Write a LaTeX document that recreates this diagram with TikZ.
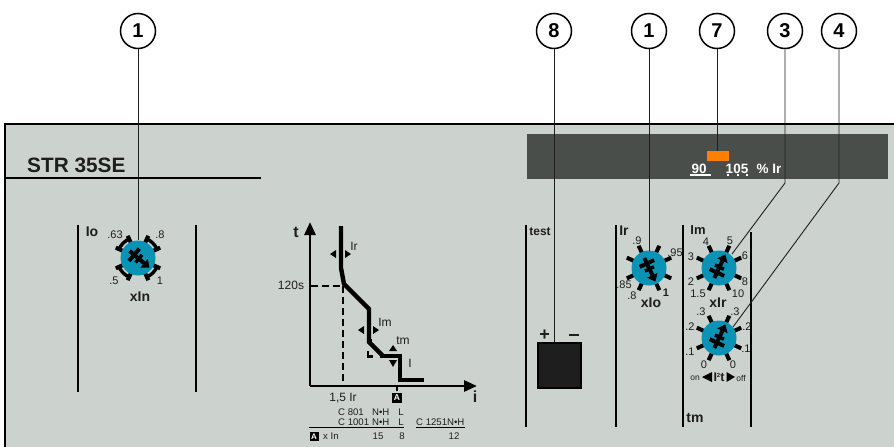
\documentclass[tikz,border=0pt]{standalone}
\usepackage{fontspec}
\setmainfont{Liberation Sans}
\usetikzlibrary{calc,arrows.meta}
\definecolor{panel}{HTML}{CCD3CE}
\definecolor{barc}{HTML}{494E4B}
\definecolor{teal}{HTML}{0A93B5}
\definecolor{ink}{HTML}{1E1E1E}
\definecolor{orangec}{HTML}{FF7F00}
\tikzset{
  x=1pt,y=-1pt,
  callout/.style={circle,draw=black,fill=white,line width=1.5pt,minimum size=35pt,inner sep=0pt,font=\fontsize{20}{20}\selectfont\bfseries},
  lead/.style={draw=ink,line width=0.9pt},
  rule/.style={draw=black,line width=2.8pt},
  txt/.style={text=ink,inner sep=0pt,font=\fontsize{11}{11}\selectfont},
  gtxt/.style={text=ink,inner sep=0pt,font=\fontsize{12}{12}\selectfont},
  tbl/.style={text=ink,inner sep=0pt,font=\fontsize{9.6}{10}\selectfont},
  lab/.style={text=ink,inner sep=0pt,font=\fontsize{13}{13}\selectfont\bfseries},
  dsp/.style={text=white,inner sep=0pt,font=\fontsize{13.5}{14}\selectfont\bfseries},
  knob/.style={circle,fill=teal,inner sep=0pt,minimum size=35pt},
  tick/.style={draw=black,line width=4pt},
  ptr/.style={draw=black,line width=4pt},
  curve/.style={draw=black,line width=4.4pt,line join=miter},
  axis/.style={draw=black,line width=2.8pt,-{Triangle[length=13pt,width=11pt]}},
  dashline/.style={draw=black,line width=2pt,dash pattern=on 7pt off 4pt},
}
\newcommand{\knobdraw}[5]{% name,x,y,pointer angle,tick angles
  \foreach \a in {#5}{\draw[tick] ($(#2,#3)+(\a:16pt)$) -- ($(#2,#3)+(\a:24.5pt)$);}
  \node[knob] (#1) at (#2,#3) {};
  \draw[ptr,-{Triangle[length=7pt,width=11pt]}] ($(#1)+(#4+180:11pt)$) -- ($(#1)+(#4:15pt)$);
  \draw[ptr] ($(#1)+(#4:-5pt)+(#4+90:8pt)$) -- ($(#1)+(#4:-5pt)+(#4-90:8pt)$);
  \draw[draw=black,line width=3.4pt] ($(#1)+(#4:1pt)+(#4+90:5pt)$) -- ($(#1)+(#4:1pt)+(#4-90:5pt)$);
}
\newcommand{\tri}[6]{\fill[black] (#1,#2) -- (#3,#4) -- (#5,#6) -- cycle;}
\begin{document}
\begin{tikzpicture}
\useasboundingbox (0,0) rectangle (894,447);
\fill[white] (0,0) rectangle (894,447);
\fill[panel] (5,124) rectangle (894,447);
\draw[rule] (894,124) -- (5,124) -- (5,447);
\draw[rule] (5,178) -- (261,178);
\node[anchor=west,text=ink,inner sep=0pt,font=\fontsize{20.8}{21}\selectfont\bfseries] (title) at (27,165) {STR 35SE};

% display bar
\fill[barc] (527,134) rectangle (888,179);
\fill[orangec] (707,151) rectangle (729,161);
\node[dsp] (t90) at (699,169) {90};
\node[dsp] (t105) at (737,169) {105};
\node[dsp] (tpct) at (769,169) {\% Ir};
\draw[white,line width=2.4pt] (690,175) -- (711,175);
\draw[white,line width=2.4pt] (727,175) -- (729,175) (737,175) -- (739,175) (746,175) -- (748,175);

% section rules
\foreach \xa/\ya/\yb in {78/225/392,196/225/392,526/225/427,616/225/427,683/225/427,751/232/427}
  \draw[rule] (\xa,\ya) -- (\xa,\yb);

% dial 1
\knobdraw{dA}{138}{258}{-40}{115,155,65,25,-25,-65,-115,-155}
\draw[black,line width=3.4pt] ($(138,258)+(115:21pt)$) arc[start angle=115,end angle=155,radius=21pt];
\draw[black,line width=3.4pt] ($(138,258)+(25:21pt)$) arc[start angle=25,end angle=65,radius=21pt];
\draw[black,line width=3.4pt] ($(138,258)+(-155:21pt)$) arc[start angle=-155,end angle=-115,radius=21pt];
\draw[black,line width=3.4pt] ($(138,258)+(-65:21pt)$) arc[start angle=-65,end angle=-25,radius=21pt];
\node[txt] at (115,235) {.63};
\node[txt] at (160,235) {.8};
\node[txt] at (114,281) {.5};
\node[txt] at (160,281) {1};
\node[lab,font=\fontsize{14}{14}\selectfont\bfseries] at (140,297) {xIn};
\node[lab,font=\fontsize{14}{14}\selectfont\bfseries] at (92,232) {Io};

% graph
\coordinate (org) at (310,386);
\coordinate (ytop) at (310,222);
\coordinate (xend) at (477,386);
\draw[axis] (org) -- (ytop);
\draw[axis] (org) -- (xend);
\draw[dashline] (311,286) -- (343,286);
\draw[dashline] (343,286) -- (343,386);
\draw[curve] (341,226) -- (341,268) -- (344,284) -- (369,309) -- (369,342) -- (383,356);
\draw[curve] (380,356) -- (400,356) -- (400,380) -- (424,380);
\draw[curve] (367,341) -- (372,341);
\draw[black,line width=2.6pt] (368,351) -- (368,356.5) -- (373,356.5);
\draw[black,line width=2pt] (397,386) -- (397,391);
\tri{330}{254}{336}{250}{336}{258}
\tri{351}{254}{345}{250}{345}{258}
\tri{358}{330}{364}{326}{364}{334}
\tri{379}{330}{373}{326}{373}{334}
\tri{393}{345}{389}{351}{397}{351}
\tri{393}{367}{389}{360}{397}{360}
\node[lab,font=\fontsize{16}{16}\selectfont\bfseries] at (296,232) {t};
\node[gtxt] at (354,246) {Ir};
\node[gtxt] at (291,285) {120s};
\node[gtxt] at (385,322) {Im};
\node[gtxt] at (403,341) {tm};
\node[gtxt] at (410,363) {I};
\node[gtxt] at (343,398) {1,5 Ir};
\node[fill=black,text=white,inner sep=0pt,minimum size=10pt,font=\fontsize{8.5}{9}\selectfont\bfseries] at (397,398) {A};
\node[lab,font=\fontsize{16}{16}\selectfont\bfseries] at (475,397) {i};
\node[tbl,anchor=west] at (338,412) {C 801};
\node[tbl,anchor=west] at (372,412) {N\textbullet H};
\node[tbl] at (401,412) {L};
\node[tbl,anchor=west] at (338,422) {C 1001};
\node[tbl,anchor=west] at (372,422) {N\textbullet H};
\node[tbl] at (401,422) {L};
\node[tbl,anchor=west] at (416,422) {C 1251N\textbullet H};
\draw[black,line width=1pt] (309,427.5) -- (404,427.5);
\draw[black,line width=1pt] (416,427.5) -- (465,427.5);
\node[fill=black,text=white,inner sep=0pt,minimum size=9pt,font=\fontsize{8}{8}\selectfont\bfseries] at (314,436.5) {A};
\node[tbl,anchor=west] at (323,436.5) {x In};
\node[tbl] at (378,436.5) {15};
\node[tbl] at (402,436.5) {8};
\node[tbl] at (454,436.5) {12};

% test
\node[lab,font=\fontsize{12}{12}\selectfont\bfseries] at (540,232) {test};
\node[draw=black,fill=ink,line width=2pt,minimum width=43pt,minimum height=45pt,inner sep=0pt] (testbox) at (559.5,365.5) {};
\node[lab,font=\fontsize{18}{18}\selectfont\bfseries] at (544.5,335) {+};
\draw[ink,line width=1.6pt] (569,335) -- (579,335);

% Ir dial
\knobdraw{dB}{649}{268}{-65}{115,65,25,-25,-65,-115,-155,155}
\node[lab,font=\fontsize{14}{14}\selectfont\bfseries] at (624,231) {Ir};
\node[txt] at (637,241) {.9};
\node[txt] at (675,253) {.95};
\node[txt] at (624,285) {.85};
\node[txt] at (632,296) {.8};
\node[txt,font=\fontsize{11}{11}\selectfont\bfseries] at (666,293) {1};
\node[lab,font=\fontsize{14}{14}\selectfont\bfseries] at (651,303) {xIo};

% Im dial
\knobdraw{dC}{719}{268}{65}{115,65,25,-25,-65,-115,-155,155}
\node[lab,font=\fontsize{13}{13}\selectfont\bfseries] at (698,230) {Im};
\node[txt] at (706,242) {4};
\node[txt] at (730,241) {5};
\node[txt] at (691,257) {3};
\node[txt] at (745,256) {6};
\node[txt] at (691,282) {2};
\node[txt] at (745,282) {8};
\node[txt] at (698,294) {1.5};
\node[txt] at (738,294) {10};
\node[lab,font=\fontsize{14}{14}\selectfont\bfseries] at (718,303) {xIr};

% tm dial
\knobdraw{dD}{719}{338}{65}{115,65,25,-25,-65,-115,-155,155}
\node[txt] at (701,312) {.3};
\node[txt] at (735,312) {.3};
\node[txt] at (690,327) {.2};
\node[txt] at (747,327) {.2};
\node[txt] at (690,352) {.1};
\node[txt] at (746,349) {.1};
\node[txt] at (704,365) {0};
\node[txt] at (733,365) {0};
\node[txt,font=\fontsize{8.5}{9}\selectfont] at (695,378) {on};
\node[txt,font=\fontsize{8.5}{9}\selectfont] at (741,378) {off};
\node[lab,font=\fontsize{12.5}{13}\selectfont\bfseries] at (719,377) {I\raisebox{3.5pt}{\fontsize{6}{6}\selectfont 2}t};
\tri{702}{377}{712}{372}{712}{382}
\tri{735}{377}{726.5}{372}{726.5}{382}
\node[lab,font=\fontsize{14}{14}\selectfont\bfseries] at (695,418) {tm};

% connector ends
\coordinate (e1) at (138,240);
\coordinate (e8) at (554,342);
\coordinate (e2) at (649,251);
\coordinate (e7) at (717,151);
\coordinate (b3) at (785,183);
\coordinate (e3) at (732,254);
\coordinate (b4) at (839,183);
\coordinate (e4) at (733,327);

% callouts
\node[callout] (c1) at (138,31) {1};
\node[callout] (c8) at (554,31) {8};
\node[callout] (c2) at (649,31) {1};
\node[callout] (c7) at (717,31) {7};
\node[callout] (c3) at (785,31) {3};
\node[callout] (c4) at (839,31) {4};
\draw[lead] (c1) -- (e1);
\draw[lead] (c8) -- (e8);
\draw[lead] (c2) -- (e2);
\draw[lead] (c7) -- (e7);
\draw[lead] (c3) -- (b3) -- (e3);
\draw[lead] (c4) -- (b4) -- (e4);
\end{tikzpicture}
\end{document}
